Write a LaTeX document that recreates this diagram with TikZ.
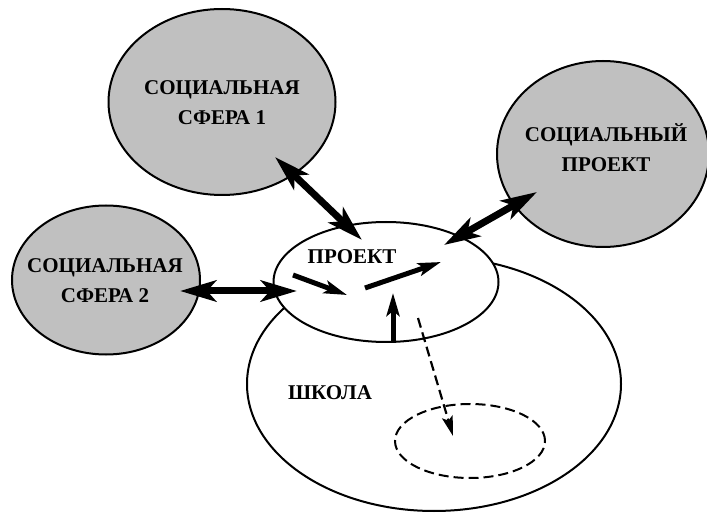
\documentclass[tikz,border=0pt]{standalone}
\usepackage{fontspec}
\setmainfont{Liberation Serif}
\usetikzlibrary{shapes.geometric,arrows.meta}
\definecolor{sferagray}{RGB}{192,192,192}
\tikzset{
  sfera/.style={ellipse, draw, line width=1pt, fill=sferagray, inner sep=0pt},
  krug/.style={ellipse, draw, line width=1pt, fill=white, inner sep=0pt},
  nadpis/.style={font=\fontsize{10.5}{15}\selectfont\bfseries, align=center, inner sep=0pt},
  dvoe/.style={line width=3.5pt, {Stealth[length=18pt,width=10.5pt,inset=4.5pt]}-{Stealth[length=18pt,width=10.5pt,inset=4.5pt]}},
  odno/.style={line width=2.5pt, -{Stealth[length=11.5pt,width=6.5pt,inset=2.5pt]}},
  punktir/.style={line width=1.1pt, dash pattern=on 5pt off 2.5pt},
}
\begin{document}
\begin{tikzpicture}[x=0.5pt,y=-0.5pt]
      \useasboundingbox (0,0) rectangle (707,513);
      % school and project
      \node[krug, minimum width=187pt, minimum height=127pt] (shkola) at (434,384) {};
      \node[krug, minimum width=112.5pt, minimum height=60pt] (proekt) at (386,282) {};
      \node[ellipse, draw, punktir, line width=1pt, minimum width=75pt, minimum height=37pt] (cel) at (470,441) {};
      % social spheres
      \node[sfera, minimum width=113.5pt, minimum height=93pt] (sfera1) at (222,102) {};
      \node[sfera, minimum width=94pt, minimum height=74.5pt] (sfera2) at (106,280) {};
      \node[sfera, minimum width=106pt, minimum height=93pt] (socpr) at (603,154) {};
      % labels
      \node[nadpis] (t1) at (222,103) {СОЦИАЛЬНАЯ\\СФЕРА 1};
      \node[nadpis] (t2) at (105,281) {СОЦИАЛЬНАЯ\\СФЕРА 2};
      \node[nadpis] (t3) at (606,148) {СОЦИАЛЬНЫЙ\\ПРОЕКТ};
      \node[nadpis] (tp) at (352,257) {ПРОЕКТ};
      \node[nadpis] (ts) at (330,393) {ШКОЛА};
      % arrow ends
      \coordinate (a1) at (275,157);
      \coordinate (b1) at (362,240);
      \coordinate (a2) at (180,291);
      \coordinate (b2) at (297,291);
      \coordinate (a3) at (537,192);
      \coordinate (b3) at (444,245);
      \coordinate (p1) at (293,275);
      \coordinate (p2) at (347,295);
      \coordinate (p3) at (365,288);
      \coordinate (p4) at (441,262);
      \coordinate (p5) at (393,341);
      \coordinate (p6) at (393,293);
      \coordinate (d1) at (418,318);
      \coordinate (d2) at (453,436);
      % arrows
      \draw[dvoe] (a1) -- (b1);
      \draw[dvoe] (a2) -- (b2);
      \draw[dvoe] (a3) -- (b3);
      \draw[odno] (p1) -- (p2);
      \draw[odno] (p3) -- (p4);
      \draw[odno] (p5) -- (p6);
      \draw[punktir, -{Stealth[length=10pt,width=5.5pt,inset=2pt]}] (d1) -- (d2);
\end{tikzpicture}
\end{document}
